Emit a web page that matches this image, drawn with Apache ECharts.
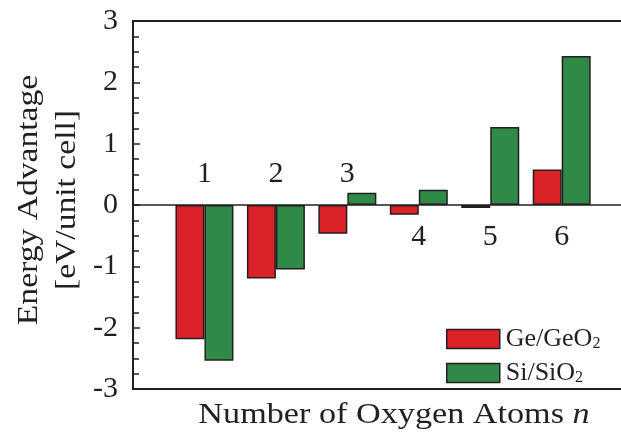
<!DOCTYPE html>
<html>
<head>
<meta charset="utf-8">
<script src="https://cdn.jsdelivr.net/npm/echarts@6/dist/echarts.min.js"></script>
<style>
  html, body { margin: 0; padding: 0; background: #ffffff; }
  #chart { width: 621px; height: 433px; }
</style>
</head>
<body>
<div id="chart"></div>
<script>
// Number of oxygen atoms n, and energy advantage per unit cell [eV]
const atomCounts = [1, 2, 3, 4, 5, 6];
const geValues = [-2.19, -1.20, -0.47, -0.16, -0.05, 0.58];
const siValues = [-2.54, -1.05, 0.20, 0.25, 1.27, 2.43];
const seriesNames = ['Ge/GeO2', 'Si/SiO2'];
const yTickMin = -3;
const yTickMax = 3;
const yTickStep = 1;

const ink = '#231f20';
const serif = '"Liberation Serif", "Times New Roman", serif';
const redFill = '#dc2229';
const greenFill = '#2f8a47';

const chart = echarts.init(document.getElementById('chart'), null, { renderer: 'canvas' });

// Chemical formula with a subscripted trailing digit
const formula = name => name.replace(/(\d)$/, '{sub|$1}');

const barStyle = fill => ({
  color: fill,
  borderColor: ink,
  borderWidth: 1.5
});

const xRangeMax = 6.83;

// Group number goes on the side of the zero line away from the bars
const groupLabels = atomCounts.map((n, i) => ({
  value: [n, 0],
  label: { offset: [0, geValues[i] + siValues[i] < 0 ? -31 : 32] }
}));

chart.setOption({
  animation: false,
  backgroundColor: '#ffffff',
  grid: { left: 133, right: 0, top: 21, bottom: 44, containLabel: false },
  xAxis: [
    {
      type: 'value', min: 0, max: xRangeMax, position: 'bottom',
      axisLine: { show: true, onZero: false, lineStyle: { color: ink, width: 2 } },
      axisTick: { show: false }, axisLabel: { show: false }, splitLine: { show: false }
    },
    {
      type: 'value', min: 0, max: xRangeMax, position: 'top',
      axisLine: { show: true, onZero: false, lineStyle: { color: ink, width: 2 } },
      axisTick: { show: false }, axisLabel: { show: false }, splitLine: { show: false }
    }
  ],
  yAxis: {
    type: 'value', min: yTickMin, max: yTickMax, interval: yTickStep,
    axisLine: { show: true, onZero: false, lineStyle: { color: ink, width: 2 } },
    axisTick: { show: true, inside: true, length: 7, lineStyle: { color: ink, width: 1.5 } },
    minorTick: { show: true, splitNumber: 4, length: 6, lineStyle: { color: ink, width: 1.5 } },
    splitLine: { show: false },
    axisLabel: {
      margin: 15, color: ink, fontFamily: serif, fontSize: 30,
      formatter: v => String(v)
    }
  },
  legend: {
    data: seriesNames,
    orient: 'vertical',
    left: 446, top: 326, padding: 0,
    itemWidth: 53, itemHeight: 19, itemGap: 8,
    icon: 'rect',
    selectedMode: false,
    itemStyle: { borderColor: ink, borderWidth: 1.5 },
    formatter: formula,
    textStyle: {
      color: ink, fontFamily: serif, fontSize: 26, padding: [0, 0, 0, 1],
      rich: {
        sub: { fontFamily: serif, fontSize: 16, color: ink, verticalAlign: 'bottom', padding: [8, 0, 0, 0] }
      }
    }
  },
  series: [
    {
      name: seriesNames[0], type: 'bar', xAxisIndex: 0,
      barWidth: 29, barGap: '0%',
      itemStyle: barStyle(redFill),
      data: atomCounts.map((n, i) => [n, geValues[i]]),
      markLine: {
        silent: true, symbol: 'none', label: { show: false },
        lineStyle: { color: ink, width: 1.5, type: 'solid' },
        data: [{ yAxis: 0 }]
      }
    },
    {
      name: seriesNames[1], type: 'bar', xAxisIndex: 0,
      barWidth: 29, barGap: '0%',
      itemStyle: barStyle(greenFill),
      data: atomCounts.map((n, i) => [n, siValues[i]])
    },
    {
      name: 'n', type: 'scatter', xAxisIndex: 0,
      symbolSize: 0, itemStyle: { color: ink, opacity: 1 },
      silent: true,
      data: groupLabels,
      label: {
        show: true, position: 'inside',
        color: ink, opacity: 1, textBorderWidth: 0,
        fontFamily: serif, fontSize: 30,
        formatter: p => String(p.value[0])
      }
    }
  ],
  graphic: [
    {
      type: 'text', x: 48, y: 200, rotation: Math.PI / 2, scaleX: 1.12,
      style: {
        text: 'Energy Advantage\n[eV/unit cell]',
        fill: ink, fontFamily: serif, fontSize: 30, lineHeight: 38,
        align: 'center', verticalAlign: 'middle'
      }
    },
    {
      type: 'text', x: 394, y: 415, scaleX: 1.14,
      style: {
        text: '{a|Number of Oxygen Atoms }{i|n}',
        fill: ink, fontFamily: serif, fontSize: 30,
        align: 'center', verticalAlign: 'middle',
        rich: {
          a: { fontFamily: serif, fontSize: 30, fill: ink },
          i: { fontFamily: serif, fontSize: 30, fontStyle: 'italic', fill: ink }
        }
      }
    }
  ]
});
</script>
</body>
</html>
